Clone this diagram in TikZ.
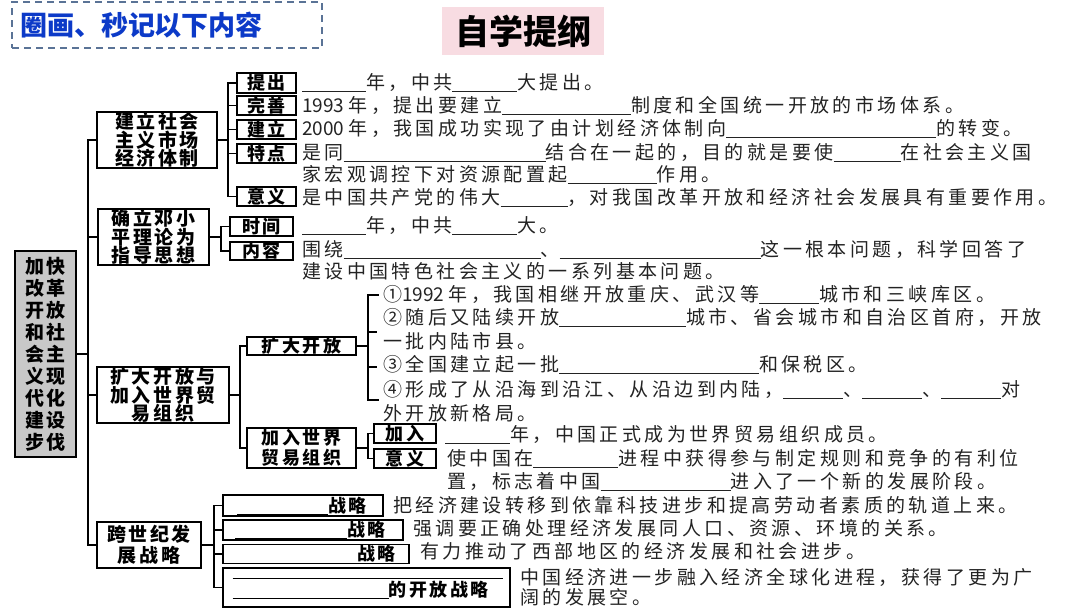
\documentclass[tikz,border=0pt]{standalone}
\usepackage{fontspec}
\newfontfamily\cjk[LetterSpace=18]{Noto Sans CJK SC}
\newfontfamily\cjkn{Noto Sans CJK SC}
\newfontfamily\cjkl[LetterSpace=14]{Noto Sans CJK SC}
\definecolor{txt}{RGB}{35,35,35}
\definecolor{hdblue}{RGB}{12,58,200}
\definecolor{dashc}{RGB}{90,115,150}
\definecolor{pinkbg}{RGB}{248,220,226}
\definecolor{rootg}{RGB}{200,200,200}
\newcommand{\bl}[1]{\rule[-2.2pt]{#1pt}{0.8pt}}
\newcommand{\dg}[1]{{\cjkn #1}}
\tikzset{
 conn/.style={line width=1.6pt, draw=black},
 lbox/.style={draw=black, line width=1.8pt, fill=white, inner sep=0pt, text=black, font=\cjkl\bfseries\fontsize{18}{20}\selectfont},
 mbox/.style={draw=black, line width=1.8pt, fill=white, inner sep=0pt, align=center, text=black, font=\cjkl\bfseries\fontsize{19}{18.5}\selectfont},
 body/.style={anchor=west, inner sep=0pt, text=txt, font=\cjk\fontsize{19}{20}\selectfont, text height=14.5pt, text depth=1pt},
}
\begin{document}
\begin{tikzpicture}[x=1pt,y=-1pt]
\useasboundingbox (0,0) rectangle (1080,608);
% header
\node[draw=dashc, dash pattern=on 7pt off 5pt, line width=1.6pt, minimum width=310pt, minimum height=46pt, inner sep=0pt, text=hdblue, font=\cjkn\bfseries\fontsize{27}{27}\selectfont] (hd) at (167,25) {\makebox[306pt][l]{\hspace{6pt}圈画、秒记以下内容}};
\node[fill=pinkbg, minimum width=162pt, minimum height=48pt, inner sep=0pt, text=black, font=\cjkn\bfseries\fontsize{34}{34}\selectfont] (zx) at (523,31) {自学提纲};
% root
\node[draw=black, line width=1.8pt, fill=rootg, minimum width=61pt, minimum height=206pt, inner sep=0pt, align=center, font=\cjkl\bfseries\fontsize{19}{22}\selectfont] (root) at (45.5,354) {加快\\改革\\开放\\和社\\会主\\义现\\代化\\建设\\步伐};
% middle level
\node[mbox, minimum width=120pt, minimum height=56pt] (m1) at (157,140) {建立社会\\主义市场\\经济体制};
\node[mbox, minimum width=111pt, minimum height=56pt] (m2) at (153.5,237) {确立邓小\\平理论为\\指导思想};
\node[mbox, minimum width=132pt, minimum height=56pt] (m3) at (163,395) {扩大开放与\\加入世界贸\\易组织};
\node[mbox, minimum width=104pt, minimum height=46pt, font=\cjkl\bfseries\fontsize{19}{21}\selectfont] (m4) at (149,545) {跨世纪发\\展战略};
% sub boxes
\node[lbox, minimum width=59pt, minimum height=20pt] (b1) at (266.5,83) {提出};
\node[lbox, minimum width=59pt, minimum height=19pt] (b2) at (266.5,105.5) {完善};
\node[lbox, minimum width=59pt, minimum height=19pt] (b3) at (266.5,129.5) {建立};
\node[lbox, minimum width=59pt, minimum height=19pt] (b4) at (266.5,153.5) {特点};
\node[lbox, minimum width=59pt, minimum height=19pt] (b5) at (266.5,196.5) {意义};
\node[lbox, minimum width=63pt, minimum height=19pt] (n1) at (261.5,226.5) {时间};
\node[lbox, minimum width=63pt, minimum height=18pt] (n2) at (261.5,251) {内容};
\node[lbox, minimum width=109pt, minimum height=18pt] (kd) at (301.5,346) {扩大开放};
\node[lbox, minimum width=109pt, minimum height=40pt, align=center] (jr) at (301.5,448) {加入世界\\贸易组织};
\node[lbox, minimum width=62pt, minimum height=19pt] (ja) at (405,433.5) {加入};
\node[lbox, minimum width=62pt, minimum height=19pt] (jy) at (405,458.5) {意义};
% strategy boxes
\node[lbox, minimum height=21pt] (g1) at (303,505.5) {\makebox[160pt][l]{\hspace{14pt}\bl{91}战略}};
\node[lbox, minimum height=20pt] (g2) at (313,530) {\makebox[180pt][l]{\hspace{12pt}\bl{112}战略}};
\node[lbox, minimum height=19pt] (g3) at (316,554) {\makebox[186pt][l]{\hspace{134pt}战略}};
\node[lbox, minimum height=39pt, align=left, text width=280pt, inner xsep=3.5pt] (g4) at (366.5,587.5) {\hspace*{6pt}\bl{270}\\\hspace*{6pt}\bl{156}的开放战略};
% connectors
\foreach \m in {m1,m2,m3,m4} \draw[conn] (root.east) -- ++(11,0) |- (\m.west);
\foreach \b in {b1,b2,b3,b4,b5} \draw[conn] (m1.east) -- ++(10,0) |- (\b.west);
\foreach \b in {n1,n2} \draw[conn] (m2.east) -- ++(11,0) |- (\b.west);
\foreach \b in {kd,jr} \draw[conn] (m3.east) -- ++(10,0) |- (\b.west);
\foreach \b in {ja,jy} \draw[conn] (jr.east) -- ++(11,0) |- (\b.west);
\foreach \b in {g1,g2,g3,g4} \draw[conn] (m4.east) -- ++(12,0) |- (\b.west);
\coordinate (c1) at (379,295);
\coordinate (c2) at (377,332);
\coordinate (c3) at (377,367);
\coordinate (c4) at (379,400);
\foreach \c in {c1,c2,c3,c4} \draw[conn] (kd.east) -- ++(11,0) |- (\c);
% body texts
\node[body] (t1) at (302,83) {\bl{64}年，中共\bl{65}大提出。};
\node[body] (t2) at (302,106) {\dg{1993 }年，提出要建立\bl{129}制度和全国统一开放的市场体系。};
\node[body] (t3) at (302,129) {\dg{2000 }年，我国成功实现了由计划经济体制向\bl{210}的转变。};
\node[body] (t4) at (302,153) {是同\bl{202}结合在一起的，目的就是要使\bl{67}在社会主义国};
\node[body] (t5) at (302,175) {家宏观调控下对资源配置起\bl{89}作用。};
\node[body] (t6) at (302,198) {是中国共产党的伟大\bl{67}，对我国改革开放和经济社会发展具有重要作用。};
\node[body] (t7) at (302,226) {\bl{64}年，中共\bl{65}大。};
\node[body] (t8) at (302,250) {围绕\bl{197}、\bl{201}这一根本问题，科学回答了};
\node[body] (t9) at (302,272) {建设中国特色社会主义的一系列基本问题。};
\node[body] (k1) at (383,295) {①\dg{1992 }年，我国相继开放重庆、武汉等\bl{60}城市和三峡库区。};
\node[body] (k2) at (383,318) {②随后又陆续开放\bl{127}城市、省会城市和自治区首府，开放};
\node[body] (k2b) at (383,342) {一批内陆市县。};
\node[body] (k3) at (383,365) {③全国建立起一批\bl{200}和保税区。};
\node[body] (k4) at (383,390) {④形成了从沿海到沿江、从沿边到内陆，\bl{60}、\bl{60}、\bl{60}对};
\node[body] (k4b) at (383,414) {外开放新格局。};
\node[body] (j1) at (445,435) {\bl{65}年，中国正式成为世界贸易组织成员。};
\node[body] (j2) at (447,459) {使中国在\bl{85}进程中获得参与制定规则和竞争的有利位};
\node[body] (j3) at (447,482) {置，标志着中国\bl{130}进入了一个新的发展阶段。};
\node[body] (s1) at (393,506) {把经济建设转移到依靠科技进步和提高劳动者素质的轨道上来。};
\node[body] (s2) at (413,529) {强调要正确处理经济发展同人口、资源、环境的关系。};
\node[body] (s3) at (420,552) {有力推动了西部地区的经济发展和社会进步。};
\node[body] (s4a) at (520,578) {中国经济进一步融入经济全球化进程，获得了更为广};
\node[body] (s4b) at (520,598) {阔的发展空。};
\end{tikzpicture}
\end{document}
